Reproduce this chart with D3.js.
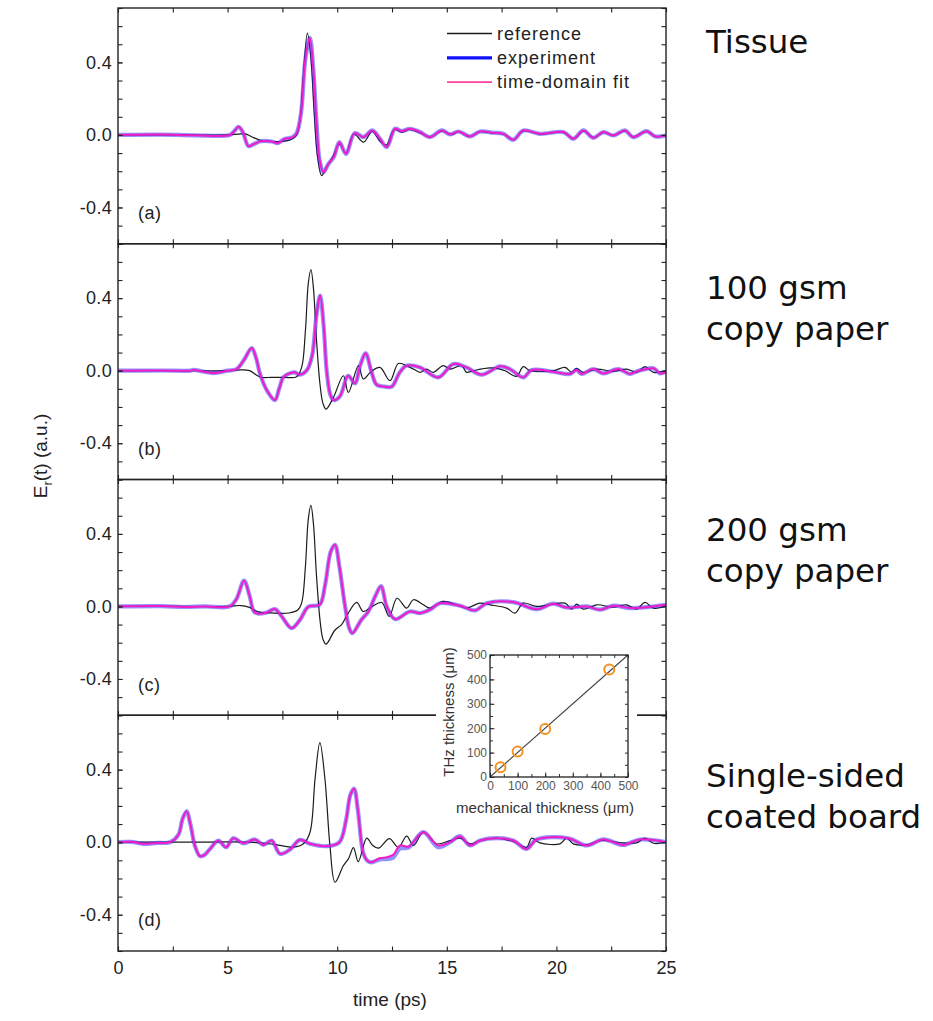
<!DOCTYPE html>
<html>
<head>
<meta charset="utf-8">
<script src="https://cdn.jsdelivr.net/npm/d3@7"></script>
<style>
  body { margin: 0; background: #fff; }
  svg { display: block; }
</style>
</head>
<body>
<svg id="chart" width="933" height="1021"></svg>
<script>
// ---------- data: reflected THz field E_r(t), time in ps ----------
const timeLabels = [0, 5, 10, 15, 20, 25];
const timeMinor = d3.range(0, 25.01, 2.5);
const ampLabels = [-0.4, 0.0, 0.4];
const ampMinor = d3.range(-0.6, 0.701, 0.1);

// (a) tissue
const tissueRef = [[0,0],[3,0],[5.0,0],[5.5,0.004],[5.8,0.006],[6.1,-0.01],[6.5,-0.03],[7.0,-0.036],[7.5,-0.036],[7.9,-0.025],[8.15,0.0],[8.3,0.08],[8.45,0.32],[8.64,0.562],[8.8,0.42],[8.95,0.12],[9.1,-0.12],[9.29,-0.224],[9.5,-0.18],[9.8,-0.12],[10.1,-0.05],[10.4,-0.1],[10.75,0.005],[11.2,-0.04],[11.6,0.02],[11.95,-0.035],[12.25,-0.055],[12.6,0.03],[12.95,0.015],[13.3,0.03],[13.8,0.01],[14.25,-0.01],[14.8,0.022],[15.2,0.002],[15.55,0.018],[16.05,-0.01],[16.5,0.018],[17.1,0.01],[17.6,0.005],[18.05,-0.025],[18.5,0.022],[19.25,0.005],[20.3,0.014],[20.8,-0.02],[21.25,0.022],[21.7,-0.014],[22.15,0.014],[22.6,-0.003],[23.15,0.022],[23.5,-0.01],[24.1,0.02],[24.5,-0.008],[25,-0.002]];
const tissueExp = [[0,0],[2,0.002],[3.5,-0.002],[5.1,0],[5.3,0.02],[5.5,0.045],[5.7,0.015],[5.95,-0.062],[6.2,-0.05],[6.5,-0.035],[7.0,-0.036],[7.3,-0.045],[7.6,-0.022],[7.95,-0.014],[8.15,0.01],[8.35,0.12],[8.55,0.42],[8.75,0.535],[8.9,0.38],[9.05,0.08],[9.2,-0.14],[9.37,-0.205],[9.6,-0.16],[9.85,-0.12],[10.1,-0.04],[10.4,-0.104],[10.8,0.01],[11.2,-0.012],[11.6,0.025],[11.95,-0.021],[12.26,-0.067],[12.64,0.034],[12.94,0.021],[13.32,0.034],[13.78,0.016],[14.23,-0.012],[14.77,0.025],[15.15,0.003],[15.53,0.019],[16.06,-0.008],[16.52,0.019],[17.12,0.012],[17.58,0.006],[18.03,-0.027],[18.49,0.025],[19.25,0.006],[20.32,0.016],[20.77,-0.021],[21.23,0.025],[21.68,-0.016],[22.14,0.016],[22.6,-0.003],[23.13,0.025],[23.5,-0.012],[24.12,0.021],[24.5,-0.008],[25,-0.003]];
const tissueFit = tissueExp;

// (b) 100 gsm copy paper
const paper100Ref = [[0,0],[3,0],[5.0,0],[5.6,0.004],[6.0,0.0],[6.48,-0.035],[7.0,-0.037],[7.6,-0.037],[8.15,-0.033],[8.38,0.02],[8.55,0.22],[8.68,0.48],[8.8,0.558],[8.92,0.45],[9.05,0.18],[9.22,-0.08],[9.35,-0.18],[9.49,-0.212],[9.83,-0.147],[10.28,-0.028],[10.51,-0.12],[10.97,0.028],[11.19,-0.046],[11.55,-0.005],[11.95,0.018],[12.41,-0.055],[12.79,0.04],[13.25,0.022],[13.48,0.009],[13.78,-0.009],[14.08,0.009],[14.38,-0.009],[14.84,0.028],[15.15,0.009],[15.68,0.028],[15.9,-0.009],[16.21,0],[16.97,0.015],[17.43,0.009],[17.66,0],[18.18,-0.031],[18.49,0.022],[18.8,0],[19.86,0],[20.39,0.018],[20.7,-0.009],[20.92,0.013],[21.23,-0.009],[21.84,0.009],[22.6,-0.004],[23.2,0.009],[23.66,-0.009],[24.04,0.022],[24.43,-0.009],[25,0]];
const paper100Exp = [[0,0],[2,0.001],[3.3,0],[3.44,0.004],[4.35,-0.013],[5.0,0.0],[5.41,0.009],[5.75,0.06],[6.1,0.125],[6.3,0.07],[6.48,-0.018],[6.8,-0.11],[7.16,-0.162],[7.35,-0.1],[7.54,-0.037],[7.77,-0.018],[8.07,-0.009],[8.27,-0.022],[8.6,0],[8.85,0.08],[9.05,0.3],[9.22,0.414],[9.38,0.25],[9.52,0.0],[9.68,-0.13],[9.83,-0.162],[10.13,-0.14],[10.5,-0.028],[10.81,-0.07],[11.05,0.03],[11.3,0.096],[11.55,0.0],[11.8,-0.077],[12.18,-0.088],[12.49,-0.088],[12.85,-0.01],[13.17,0.028],[13.78,0.018],[14.61,-0.037],[15.3,0.037],[15.9,0.018],[16.59,-0.022],[17.43,0.024],[17.88,0.009],[18.49,-0.037],[18.87,0.004],[19.86,-0.006],[20.62,-0.018],[20.92,0.004],[21.15,-0.018],[21.68,0.009],[22.14,-0.015],[22.83,0.009],[23.36,-0.018],[23.66,-0.004],[24.43,0.013],[24.73,-0.015],[25,-0.006]];
const paper100Fit = paper100Exp;

// (c) 200 gsm copy paper
const paper200Ref = [[0,0],[3,0],[5.0,0],[5.6,0.005],[6.0,-0.005],[6.4,-0.03],[7.0,-0.036],[7.8,-0.036],[8.2,-0.02],[8.38,0.02],[8.55,0.22],[8.68,0.48],[8.8,0.558],[8.92,0.45],[9.05,0.18],[9.22,-0.08],[9.35,-0.18],[9.49,-0.208],[9.9,-0.13],[10.2,-0.1],[10.5,-0.037],[10.89,0.022],[11.19,-0.028],[11.6,0.0],[12.03,0.022],[12.37,-0.055],[12.73,0.045],[13.17,-0.009],[13.48,0.037],[13.93,0.009],[14.23,-0.009],[14.84,0.028],[15.45,0.009],[15.9,-0.009],[16.5,0.018],[16.97,0.009],[17.73,-0.009],[18.11,-0.037],[18.49,0.018],[19.1,0],[20.39,0.018],[20.7,-0.015],[20.92,0.013],[21.23,-0.015],[21.84,0.009],[22.6,-0.004],[23.2,0.009],[23.66,-0.015],[24.04,0.022],[24.43,-0.009],[25,0]];
const paper200Exp = [[0,0],[2,0.002],[3,-0.003],[4,0],[5.1,0],[5.4,0.04],[5.75,0.142],[6.0,0.06],[6.2,-0.028],[6.4,-0.04],[6.78,-0.033],[7.16,-0.015],[7.47,-0.055],[7.92,-0.12],[8.3,-0.074],[8.68,-0.002],[9.2,0.01],[9.45,0.12],[9.7,0.3],[9.9,0.34],[10.1,0.22],[10.36,0],[10.55,-0.12],[10.69,-0.147],[11.1,-0.074],[11.42,-0.028],[11.75,0.06],[12.0,0.112],[12.26,0.0],[12.64,-0.07],[13.32,-0.028],[13.78,-0.037],[14.23,-0.018],[14.69,0.018],[15.6,0.004],[16.29,-0.022],[16.82,0.018],[18.03,0.024],[19.1,-0.015],[19.86,0.015],[20.47,-0.006],[21.38,0],[21.99,-0.018],[22.6,0.004],[23.36,-0.009],[24.12,-0.004],[25,0.009]];
const paper200Fit = paper200Exp;

// (d) single-sided coated board
const coatedRef = [[0,0],[3,0],[6,0],[7.0,-0.01],[7.39,-0.018],[8.0,-0.028],[8.46,-0.009],[8.76,0.055],[8.99,0.35],[9.21,0.549],[9.44,0.35],[9.67,-0.02],[9.9,-0.221],[10.28,-0.13],[10.52,-0.09],[10.74,-0.03],[10.96,-0.107],[11.35,0.022],[11.6,-0.015],[11.88,-0.033],[12.38,0.02],[12.79,-0.028],[13.17,0.033],[13.48,-0.018],[13.93,0.055],[14.53,-0.009],[15.15,0.009],[15.6,0.022],[16.06,-0.009],[16.52,0.009],[17.28,0.022],[18.03,0.004],[18.64,-0.028],[18.87,0.022],[19.25,-0.004],[20.16,-0.009],[20.47,0.022],[20.77,-0.009],[21.38,-0.015],[21.99,0.009],[23.05,-0.004],[23.66,-0.004],[24.04,0.022],[24.43,-0.006],[25,0]];
const coatedExp = [[0,0],[0.6,0.002],[1.15,-0.009],[1.8,-0.004],[2.37,0],[2.75,0.04],[2.95,0.13],[3.13,0.17],[3.3,0.1],[3.51,-0.02],[3.74,-0.077],[3.95,-0.07],[4.2,-0.037],[4.58,0.009],[4.93,-0.028],[5.26,0.022],[5.72,-0.006],[6.25,0.015],[6.63,-0.015],[7.01,0.009],[7.39,-0.064],[7.85,-0.04],[8.3,0.013],[8.76,-0.009],[9.52,-0.022],[10.1,0.0],[10.4,0.12],[10.6,0.26],[10.77,0.295],[10.95,0.17],[11.19,-0.06],[11.4,-0.105],[11.57,-0.112],[11.95,-0.095],[12.26,-0.093],[12.55,-0.085],[12.87,-0.035],[13.25,-0.03],[13.93,0.055],[14.61,-0.028],[15.15,0],[15.6,0.033],[16.06,-0.018],[16.52,0.009],[17.28,0.022],[18.03,0.009],[18.64,-0.037],[19.1,0.015],[20.54,0.022],[21.38,-0.018],[22.14,0.015],[23.05,-0.015],[23.81,0.015],[25,0]];
const coatedFit = [[0,0],[0.6,0.002],[1.15,-0.009],[1.8,-0.004],[2.37,0],[2.75,0.04],[2.95,0.13],[3.13,0.17],[3.3,0.1],[3.51,-0.02],[3.74,-0.077],[3.95,-0.07],[4.2,-0.037],[4.58,0.009],[4.93,-0.028],[5.26,0.022],[5.72,-0.006],[6.25,0.015],[6.63,-0.015],[7.01,0.009],[7.39,-0.064],[7.85,-0.04],[8.3,0.013],[8.76,-0.009],[9.52,-0.022],[10.1,0.0],[10.4,0.12],[10.6,0.26],[10.77,0.295],[10.95,0.17],[11.19,-0.06],[11.4,-0.105],[11.57,-0.11],[11.95,-0.088],[12.26,-0.083],[12.55,-0.07],[12.87,-0.018],[13.25,-0.025],[13.93,0.055],[14.61,-0.018],[15.15,0],[15.6,0.033],[16.06,-0.018],[16.52,0.009],[17.28,0.022],[18.03,0.009],[18.64,-0.037],[19.1,0.015],[20.54,0.022],[21.38,-0.018],[22.14,0.015],[23.05,-0.015],[23.81,0.015],[25,0]];

const panelTags = ['(a)', '(b)', '(c)', '(d)'];
const sampleNames = [['Tissue'], ['100 gsm', 'copy paper'], ['200 gsm', 'copy paper'], ['Single-sided', 'coated board']];
const legendNames = ['reference', 'experiment', 'time-domain fit'];

// inset: THz-derived vs mechanical thickness (µm)
const mechThickness = [38, 100, 200, 432];
const thzThickness = [40, 104, 197, 441];
const insetTicks = [0, 100, 200, 300, 400, 500];

// ---------- layout ----------
const svg = d3.select('#chart');
const plotLeft = 118, plotRight = 666, plotTop = 8, plotBottom = 951;
const panelH = (plotBottom - plotTop) / 4;
const tickLen = 4.5;
const axisFont = 'Liberation Sans, Arial, sans-serif';
const sampleFirstBaseline = [53, 299, 541, 787];
const sampleLineGap = 41;

const colRef = '#1c1c1c', colExp = '#2626ff', colFit = '#f21cc4';

const x = d3.scaleLinear().domain([0, 25]).range([plotLeft, plotRight]);

const panels = [
  { ref: tissueRef, exp: tissueExp, fit: tissueFit },
  { ref: paper100Ref, exp: paper100Exp, fit: paper100Fit },
  { ref: paper200Ref, exp: paper200Exp, fit: paper200Fit },
  { ref: coatedRef, exp: coatedExp, fit: coatedFit }
];

const defs = svg.append('defs');

panels.forEach((p, i) => {
  const top = plotTop + i * panelH;
  const bottom = top + panelH;
  const y = d3.scaleLinear().domain([-0.6, 0.7]).range([bottom, top]);
  const g = svg.append('g');

  defs.append('clipPath').attr('id', 'clip' + i)
    .append('rect').attr('x', plotLeft).attr('y', top).attr('width', plotRight - plotLeft).attr('height', panelH);

  const line = d3.line()
    .x(d => x(d[0])).y(d => y(d[1]))
    .curve(d3.curveCatmullRom.alpha(0.5));

  const traces = g.append('g').attr('clip-path', `url(#clip${i})`);
  traces.append('path').datum(p.ref).attr('d', line)
    .attr('fill', 'none').attr('stroke', colRef).attr('stroke-width', 1.2);
  traces.append('path').datum(p.exp).attr('d', line)
    .attr('fill', 'none').attr('stroke', colExp).attr('stroke-width', 4.2)
    .attr('stroke-opacity', 0.5).attr('stroke-linejoin', 'round');
  traces.append('path').datum(p.fit).attr('d', line)
    .attr('fill', 'none').attr('stroke', colFit).attr('stroke-width', 2)
    .attr('stroke-linejoin', 'round');

  // inward minor ticks on all four sides
  const tickStyle = sel => sel.call(s => s.select('.domain').remove())
    .call(s => s.selectAll('line').attr('stroke', '#222').attr('stroke-width', 1.1));
  g.append('g').attr('transform', `translate(${plotLeft},0)`)
    .call(d3.axisLeft(y).tickValues(ampMinor).tickSize(-tickLen).tickFormat('')).call(tickStyle);
  g.append('g').attr('transform', `translate(${plotRight},0)`)
    .call(d3.axisRight(y).tickValues(ampMinor).tickSize(-tickLen).tickFormat('')).call(tickStyle);
  g.append('g').attr('transform', `translate(0,${top})`)
    .call(d3.axisTop(x).tickValues(timeMinor).tickSize(-tickLen).tickFormat('')).call(tickStyle);
  g.append('g').attr('transform', `translate(0,${bottom})`)
    .call(d3.axisBottom(x).tickValues(timeMinor).tickSize(-tickLen).tickFormat('')).call(tickStyle);

  // labelled amplitude ticks
  const yLab = g.append('g').attr('transform', `translate(${plotLeft},0)`)
    .call(d3.axisLeft(y).tickValues(ampLabels).tickSize(-tickLen).tickPadding(6)
      .tickFormat(v => v.toFixed(1)));
  yLab.select('.domain').remove();
  yLab.selectAll('line').attr('stroke', '#222');
  yLab.selectAll('text').attr('font-family', axisFont).attr('font-size', 18).attr('fill', '#222')
    .attr('letter-spacing', 0.3);

  // frame
  g.append('rect').attr('x', plotLeft).attr('y', top)
    .attr('width', plotRight - plotLeft).attr('height', panelH)
    .attr('fill', 'none').attr('stroke', '#222').attr('stroke-width', 1.4);

  // panel tag
  g.append('text').attr('x', 138).attr('y', top + 211)
    .attr('font-family', axisFont).attr('font-size', 18).attr('letter-spacing', 0.5)
    .attr('fill', '#222').text(panelTags[i]);

  // sample name to the right, one text per line
  sampleNames[i].forEach((s, k) => {
    svg.append('text').attr('x', 706).attr('y', sampleFirstBaseline[i] + k * sampleLineGap)
      .attr('font-family', 'DejaVu Sans, sans-serif').attr('font-size', 32.5)
      .attr('fill', '#111').text(s);
  });
});

// time axis labels under the last panel
const xLab = svg.append('g').attr('transform', `translate(0,${plotBottom})`)
  .call(d3.axisBottom(x).tickValues(timeLabels).tickSize(0).tickPadding(10).tickFormat(d3.format('d')));
xLab.select('.domain').remove();
xLab.selectAll('text').attr('font-family', axisFont).attr('font-size', 18).attr('fill', '#222');

svg.append('text').attr('x', (plotLeft + plotRight) / 2 - 2).attr('y', 1006)
  .attr('text-anchor', 'middle').attr('font-family', axisFont).attr('font-size', 19)
  .attr('fill', '#222').text('time (ps)');

const yTitle = svg.append('text')
  .attr('transform', 'translate(47,456) rotate(-90)')
  .attr('text-anchor', 'middle').attr('font-family', axisFont).attr('font-size', 19).attr('fill', '#222');
yTitle.append('tspan').text('E');
yTitle.append('tspan').attr('font-size', 13).attr('dy', 5).text('r');
yTitle.append('tspan').attr('dy', -5).text('(t) (a.u.)');

// legend in the first panel
const legendStyles = [
  { color: colRef, width: 1.3 },
  { color: '#1010ff', width: 3.2 },
  { color: '#ff3fa0', width: 1.6 }
];
legendNames.forEach((name, k) => {
  const ly = 33.5 + k * 24.3;
  svg.append('line').attr('x1', 447).attr('x2', 492).attr('y1', ly).attr('y2', ly)
    .attr('stroke', legendStyles[k].color).attr('stroke-width', legendStyles[k].width);
  svg.append('text').attr('x', 497).attr('y', ly + 6)
    .attr('font-family', axisFont).attr('font-size', 18).attr('letter-spacing', 1)
    .attr('fill', '#222').text(name);
});

// ---------- inset: thickness comparison ----------
const inset = svg.append('g');
inset.append('rect').attr('x', 436).attr('y', 632).attr('width', 201).attr('height', 190).attr('fill', '#fff');

const ix = d3.scaleLinear().domain([0, 500]).range([490, 628]);
const iy = d3.scaleLinear().domain([0, 500]).range([777, 655]);
const insetMinor = d3.range(0, 501, 50);
const insetFont = 12;
const thinStyle = s => { s.select('.domain').remove(); s.selectAll('line').attr('stroke', '#333'); };

inset.append('g').attr('transform', 'translate(0,777)')
  .call(d3.axisBottom(ix).tickValues(insetMinor).tickSize(-3).tickFormat('')).call(thinStyle);
inset.append('g').attr('transform', 'translate(0,655)')
  .call(d3.axisTop(ix).tickValues(insetMinor).tickSize(-3).tickFormat('')).call(thinStyle);
inset.append('g').attr('transform', 'translate(490,0)')
  .call(d3.axisLeft(iy).tickValues(insetMinor).tickSize(-3).tickFormat('')).call(thinStyle);
inset.append('g').attr('transform', 'translate(628,0)')
  .call(d3.axisRight(iy).tickValues(insetMinor).tickSize(-3).tickFormat('')).call(thinStyle);

const ixLab = inset.append('g').attr('transform', 'translate(0,777)')
  .call(d3.axisBottom(ix).tickValues(insetTicks).tickSize(-4.5).tickPadding(4));
ixLab.select('.domain').remove();
ixLab.selectAll('line').attr('stroke', '#333');
ixLab.selectAll('text').attr('font-family', axisFont).attr('font-size', insetFont).attr('fill', '#555');

const iyLab = inset.append('g').attr('transform', 'translate(490,0)')
  .call(d3.axisLeft(iy).tickValues(insetTicks).tickSize(-4.5).tickPadding(3));
iyLab.select('.domain').remove();
iyLab.selectAll('line').attr('stroke', '#333');
iyLab.selectAll('text').attr('font-family', axisFont).attr('font-size', insetFont).attr('fill', '#555');

inset.append('line')
  .attr('x1', ix(0)).attr('y1', iy(0)).attr('x2', ix(500)).attr('y2', iy(500))
  .attr('stroke', '#444').attr('stroke-width', 1.1);

inset.append('rect').attr('x', 490).attr('y', 655).attr('width', 138).attr('height', 122)
  .attr('fill', 'none').attr('stroke', '#222').attr('stroke-width', 1.3);

inset.selectAll('circle.pt').data(mechThickness).join('circle')
  .attr('class', 'pt')
  .attr('cx', d => ix(d)).attr('cy', (d, k) => iy(thzThickness[k])).attr('r', 5)
  .attr('fill', 'none').attr('stroke', '#f7901e').attr('stroke-width', 2);

inset.append('text').attr('x', 545).attr('y', 813)
  .attr('text-anchor', 'middle').attr('font-family', axisFont).attr('font-size', 15)
  .attr('fill', '#333').text('mechanical thickness (\u03bcm)');
inset.append('text').attr('transform', 'translate(454,712) rotate(-90)')
  .attr('text-anchor', 'middle').attr('font-family', axisFont).attr('font-size', 15)
  .attr('fill', '#333').text('THz thickness (\u03bcm)');
</script>
</body>
</html>
